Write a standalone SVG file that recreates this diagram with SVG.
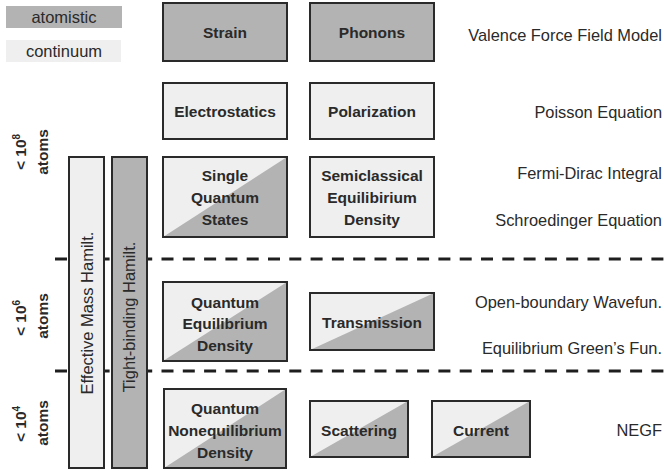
<svg xmlns="http://www.w3.org/2000/svg" width="664" height="471" viewBox="0 0 664 471">
<style>
.box{stroke:#2a2a2a;stroke-width:2}
.at{fill:#b3b3b3}
.co{fill:#efefef}
.lbl{font-family:"Liberation Sans",Arial,sans-serif;font-size:15.5px;font-weight:bold;fill:#2a2a2a;text-anchor:middle}
.eq{font-family:"Liberation Sans",Arial,sans-serif;font-size:16.4px;fill:#2a2a2a;text-anchor:end}
.leg{font-family:"Liberation Sans",Arial,sans-serif;font-size:16.5px;fill:#2a2a2a;text-anchor:middle}
.side{font-family:"Liberation Sans",Arial,sans-serif;font-size:15.5px;font-weight:bold;fill:#2a2a2a;text-anchor:middle}
.dash{stroke:#1e1e1e;stroke-width:3;stroke-dasharray:12 9.3;fill:none}
</style>
<rect width="664" height="471" fill="#ffffff"/>
<g id="legend">
<rect x="6" y="6" width="116" height="22" class="at"/>
<text x="64" y="23" class="leg">atomistic</text>
<rect x="6" y="40" width="115" height="22" class="co"/>
<text x="64" y="57" class="leg">continuum</text>
</g>
<g id="connectors">
<line x1="55" y1="259" x2="664" y2="259" class="dash"/>
<line x1="55" y1="371" x2="664" y2="371" class="dash"/>
</g>
<g id="scale">
<text transform="translate(26,152) rotate(-90)" class="side">&lt; 10<tspan font-size="10" dy="-6">8</tspan></text>
<text transform="translate(48,152) rotate(-90)" class="side">atoms</text>
<text transform="translate(26,318) rotate(-90)" class="side">&lt; 10<tspan font-size="10" dy="-6">6</tspan></text>
<text transform="translate(48,316) rotate(-90)" class="side">atoms</text>
<text transform="translate(26,424) rotate(-90)" class="side">&lt; 10<tspan font-size="10" dy="-6">4</tspan></text>
<text transform="translate(48,423) rotate(-90)" class="side">atoms</text>
</g>
<g id="effective-mass">
<rect x="69" y="157" width="35" height="311" class="box co"/>
<text transform="translate(92.5,313) rotate(-90)" class="leg">Effective Mass Hamilt.</text>
</g>
<g id="tight-binding">
<rect x="112" y="157" width="35" height="311" class="box at"/>
<text transform="translate(135,317) rotate(-90)" class="leg">Tight-binding Hamilt.</text>
</g>
<g id="strain">
<rect x="163" y="3" width="124" height="58" class="box at"/>
<text x="225" y="37.5" class="lbl">Strain</text>
</g>
<g id="phonons">
<rect x="310" y="3" width="124" height="58" class="box at"/>
<text x="372" y="37.5" class="lbl">Phonons</text>
</g>
<g id="electrostatics">
<rect x="163" y="83" width="124" height="56" class="box co"/>
<text x="225" y="116.5" class="lbl">Electrostatics</text>
</g>
<g id="polarization">
<rect x="310" y="83" width="124" height="56" class="box co"/>
<text x="372" y="116.5" class="lbl">Polarization</text>
</g>
<g id="single-quantum-states">
<rect x="163" y="157" width="124" height="80" class="box co"/>
<polygon points="163,237 287,157 287,237" class="at"/>
<rect x="163" y="157" width="124" height="80" class="box" fill="none"/>
<text x="225" y="180.5" class="lbl">Single</text>
<text x="225" y="202.5" class="lbl">Quantum</text>
<text x="225" y="224.5" class="lbl">States</text>
</g>
<g id="semiclassical">
<rect x="310" y="157" width="124" height="80" class="box co"/>
<text x="372" y="180.5" class="lbl">Semiclassical</text>
<text x="372" y="202.5" class="lbl">Equilibirium</text>
<text x="372" y="224.5" class="lbl">Density</text>
</g>
<g id="quantum-equilibrium">
<rect x="163" y="282" width="124" height="79" class="box co"/>
<polygon points="163,361 287,282 287,361" class="at"/>
<rect x="163" y="282" width="124" height="79" class="box" fill="none"/>
<text x="225" y="307.5" class="lbl">Quantum</text>
<text x="225" y="329" class="lbl">Equilibrium</text>
<text x="225" y="350.5" class="lbl">Density</text>
</g>
<g id="transmission">
<rect x="310" y="293" width="124" height="57" class="box co"/>
<polygon points="310,350 434,293 434,350" class="at"/>
<rect x="310" y="293" width="124" height="57" class="box" fill="none"/>
<text x="372" y="327.5" class="lbl">Transmission</text>
</g>
<g id="quantum-nonequilibrium">
<rect x="164" y="389" width="122" height="79" class="box co"/>
<polygon points="164,468 286,389 286,468" class="at"/>
<rect x="164" y="389" width="122" height="79" class="box" fill="none"/>
<text x="225" y="413.5" class="lbl">Quantum</text>
<text x="225" y="435.5" class="lbl">Nonequilibrium</text>
<text x="225" y="457.5" class="lbl">Density</text>
</g>
<g id="scattering">
<rect x="310" y="401" width="98" height="56" class="box co"/>
<polygon points="310,457 408,401 408,457" class="at"/>
<rect x="310" y="401" width="98" height="56" class="box" fill="none"/>
<text x="359" y="435.5" class="lbl">Scattering</text>
</g>
<g id="current">
<rect x="432" y="401" width="98" height="56" class="box co"/>
<polygon points="432,457 530,401 530,457" class="at"/>
<rect x="432" y="401" width="98" height="56" class="box" fill="none"/>
<text x="481" y="435.5" class="lbl">Current</text>
</g>
<g id="methods">
<text x="662" y="41" class="eq">Valence Force Field Model</text>
<text x="662" y="118" class="eq">Poisson Equation</text>
<text x="662" y="179" class="eq">Fermi-Dirac Integral</text>
<text x="662" y="226" class="eq">Schroedinger Equation</text>
<text x="662" y="308" class="eq">Open-boundary Wavefun.</text>
<text x="662" y="354" class="eq">Equilibrium Green’s Fun.</text>
<text x="662" y="436" class="eq">NEGF</text>
</g>
</svg>
